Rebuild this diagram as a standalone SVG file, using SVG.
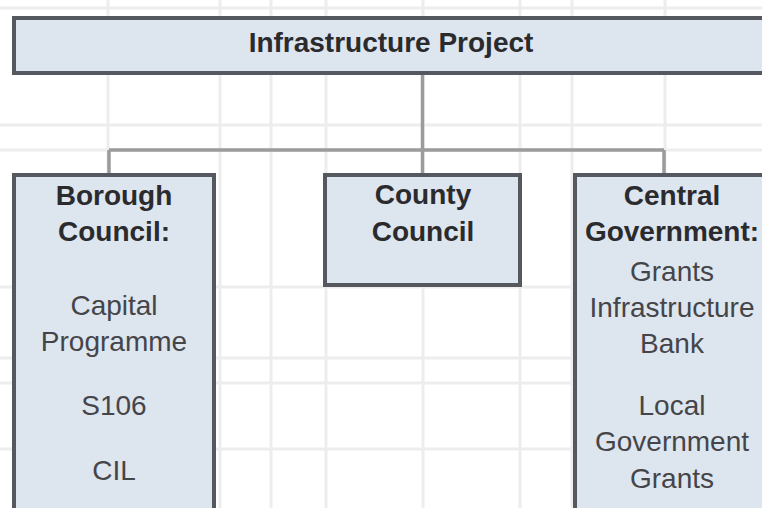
<svg xmlns="http://www.w3.org/2000/svg" width="762" height="508" viewBox="0 0 762 508">
<style>
.grid line{stroke:#ededed;stroke-width:3}
.box{fill:#dde5ef;stroke:#55595f;stroke-width:4}
.conn{stroke:#9b9b9b;stroke-width:3.5;fill:none}
.h{font-family:"Liberation Sans",Arial,sans-serif;font-weight:bold;font-size:28px;fill:#2b2b2e;text-anchor:middle}
.t{font-family:"Liberation Sans",Arial,sans-serif;font-size:28px;fill:#454549;text-anchor:middle}
</style>
<rect x="0" y="0" width="762" height="508" fill="#ffffff"/>
<g class="grid">
<line x1="108" y1="0" x2="108" y2="508"/>
<line x1="220" y1="0" x2="220" y2="508"/>
<line x1="271" y1="0" x2="271" y2="508"/>
<line x1="326" y1="0" x2="326" y2="508"/>
<line x1="423" y1="0" x2="423" y2="508"/>
<line x1="520" y1="0" x2="520" y2="508"/>
<line x1="572" y1="0" x2="572" y2="508"/>
<line x1="665" y1="0" x2="665" y2="508"/>
<line x1="0" y1="8" x2="762" y2="8"/>
<line x1="0" y1="125" x2="762" y2="125"/>
<line x1="0" y1="150" x2="762" y2="150"/>
<line x1="0" y1="287" x2="762" y2="287"/>
<line x1="0" y1="358" x2="762" y2="358"/>
<line x1="0" y1="383" x2="762" y2="383"/>
<line x1="0" y1="449" x2="762" y2="449"/>
</g>
<g id="connectors">
<path class="conn" d="M422.5 73 V150 M109 150 H664 M109 150 V175 M422.5 150 V175 M664 150 V175"/>
</g>
<g id="infrastructure-project">
<rect class="box" x="14" y="18" width="756" height="55"/>
<text class="h" x="391" y="52">Infrastructure Project</text>
</g>
<g id="borough-council">
<rect class="box" x="14" y="175" width="200" height="350"/>
<text class="h" x="114" y="205">Borough</text>
<text class="h" x="114" y="241">Council:</text>
<text class="t" x="114" y="315">Capital</text>
<text class="t" x="114" y="351">Programme</text>
<text class="t" x="114" y="415">S106</text>
<text class="t" x="114" y="480">CIL</text>
</g>
<g id="county-council">
<rect class="box" x="325" y="175" width="195" height="110"/>
<text class="h" x="423" y="204">County</text>
<text class="h" x="423" y="241">Council</text>
</g>
<g id="central-government">
<rect class="box" x="575" y="175" width="196" height="350"/>
<text class="h" x="672" y="205">Central</text>
<text class="h" x="672" y="241">Government:</text>
<text class="t" x="672" y="281">Grants</text>
<text class="t" x="672" y="317">Infrastructure</text>
<text class="t" x="672" y="353">Bank</text>
<text class="t" x="672" y="415">Local</text>
<text class="t" x="672" y="451">Government</text>
<text class="t" x="672" y="488">Grants</text>
</g>
</svg>
